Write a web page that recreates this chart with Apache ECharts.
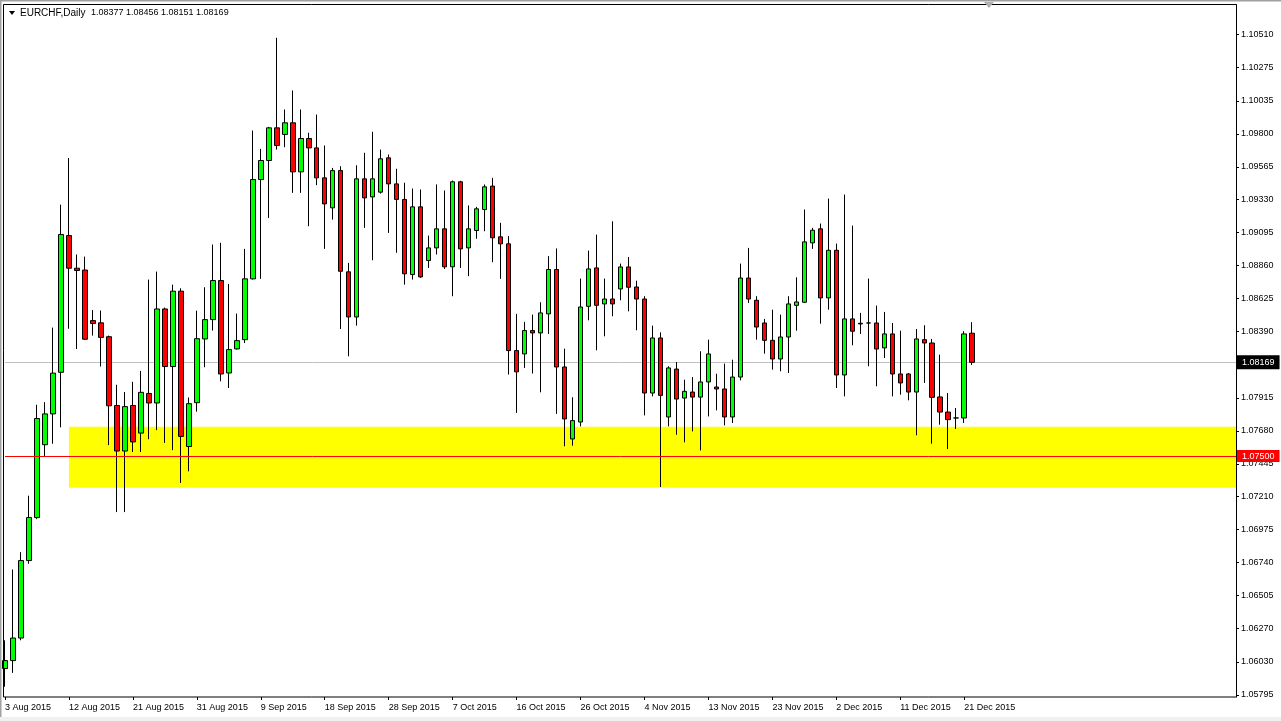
<!DOCTYPE html>
<html><head><meta charset="utf-8">
<script src="https://cdn.jsdelivr.net/npm/echarts@6/dist/echarts.min.js"></script>
<style>html,body{margin:0;padding:0;background:#fff}#c{width:1281px;height:721px}</style>
</head><body><div id="c"></div>
<script>
// Daily bars (broker with Sunday sessions), 3 Aug 2015 .. 22 Dec 2015
const dates = [
'3 Aug 2015','4 Aug 2015','5 Aug 2015','6 Aug 2015','7 Aug 2015','9 Aug 2015',
'10 Aug 2015','11 Aug 2015','12 Aug 2015','13 Aug 2015','14 Aug 2015','16 Aug 2015',
'17 Aug 2015','18 Aug 2015','19 Aug 2015','20 Aug 2015','21 Aug 2015','23 Aug 2015',
'24 Aug 2015','25 Aug 2015','26 Aug 2015','27 Aug 2015','28 Aug 2015','30 Aug 2015',
'31 Aug 2015','1 Sep 2015','2 Sep 2015','3 Sep 2015','4 Sep 2015','6 Sep 2015',
'7 Sep 2015','8 Sep 2015','9 Sep 2015','10 Sep 2015','11 Sep 2015','13 Sep 2015',
'14 Sep 2015','15 Sep 2015','16 Sep 2015','17 Sep 2015','18 Sep 2015','20 Sep 2015',
'21 Sep 2015','22 Sep 2015','23 Sep 2015','24 Sep 2015','25 Sep 2015','27 Sep 2015',
'28 Sep 2015','29 Sep 2015','30 Sep 2015','1 Oct 2015','2 Oct 2015','4 Oct 2015',
'5 Oct 2015','6 Oct 2015','7 Oct 2015','8 Oct 2015','9 Oct 2015','11 Oct 2015',
'12 Oct 2015','13 Oct 2015','14 Oct 2015','15 Oct 2015','16 Oct 2015','18 Oct 2015',
'19 Oct 2015','20 Oct 2015','21 Oct 2015','22 Oct 2015','23 Oct 2015','25 Oct 2015',
'26 Oct 2015','27 Oct 2015','28 Oct 2015','29 Oct 2015','30 Oct 2015','1 Nov 2015',
'2 Nov 2015','3 Nov 2015','4 Nov 2015','5 Nov 2015','6 Nov 2015','8 Nov 2015',
'9 Nov 2015','10 Nov 2015','11 Nov 2015','12 Nov 2015','13 Nov 2015','15 Nov 2015',
'16 Nov 2015','17 Nov 2015','18 Nov 2015','19 Nov 2015','20 Nov 2015','22 Nov 2015',
'23 Nov 2015','24 Nov 2015','25 Nov 2015','26 Nov 2015','27 Nov 2015','29 Nov 2015',
'30 Nov 2015','1 Dec 2015','2 Dec 2015','3 Dec 2015','4 Dec 2015','6 Dec 2015',
'7 Dec 2015','8 Dec 2015','9 Dec 2015','10 Dec 2015','11 Dec 2015','13 Dec 2015',
'14 Dec 2015','15 Dec 2015','16 Dec 2015','17 Dec 2015','18 Dec 2015','20 Dec 2015',
'21 Dec 2015','22 Dec 2015'
];
const opens = [
1.05983,1.06040,1.06201,1.06754,1.07061,1.07581,1.07801,1.08098,1.09074,1.08841,
1.08828,1.08467,1.08451,1.08352,1.07861,1.07536,1.07861,1.07664,1.07947,1.07879,
1.08550,1.08139,1.08677,1.07568,1.07881,1.08336,1.08474,1.08753,1.08093,1.08265,
1.08331,1.08765,1.09474,1.09610,1.09843,1.09796,1.09879,1.09529,1.09767,1.09700,
1.09486,1.09272,1.09538,1.08815,1.08493,1.09479,1.09350,1.09384,1.09629,1.09443,
1.09332,1.08796,1.09279,1.08896,1.08986,1.09122,1.08851,1.09458,1.08986,1.09110,
1.09260,1.09427,1.09065,1.09015,1.08253,1.08229,1.08396,1.08379,1.08515,1.08832,
1.08136,1.07622,1.07743,1.08569,1.08843,1.08586,1.08621,1.08693,1.08850,1.08707,
1.08621,1.07950,1.08343,1.07779,1.08121,1.07914,1.07957,1.07921,1.08029,1.07993,
1.07979,1.07779,1.08064,1.08771,1.08612,1.08450,1.08326,1.08193,1.08350,1.08576,
1.08598,1.09022,1.09122,1.08629,1.08969,1.08079,1.08479,1.08448,1.08450,1.08450,
1.08272,1.08372,1.08086,1.08086,1.07957,1.08331,1.08307,1.07922,1.07814,1.07772,
1.07772,1.08377
];
const highs = [
1.06185,1.06690,1.06814,1.07217,1.07866,1.07885,1.08417,1.09295,1.09628,1.08939,
1.08924,1.08542,1.08539,1.08360,1.08009,1.07957,1.08030,1.08108,1.08760,1.08817,
1.08560,1.08724,1.08698,1.07918,1.08538,1.08705,1.09010,1.09022,1.08729,1.08517,
1.08979,1.09824,1.09693,1.09850,1.10486,1.09974,1.10110,1.09974,1.09808,1.09938,
1.09717,1.09557,1.09569,1.08879,1.09576,1.09665,1.09815,1.09688,1.09653,1.09551,
1.09451,1.09410,1.09403,1.09074,1.09439,1.09396,1.09467,1.09465,1.09289,1.09279,
1.09439,1.09486,1.09165,1.09070,1.08515,1.08458,1.08510,1.08598,1.08927,1.08982,
1.08267,1.07920,1.08767,1.08967,1.09081,1.08767,1.09176,1.08874,1.08921,1.08752,
1.08641,1.08431,1.08383,1.08141,1.08171,1.08045,1.08064,1.08248,1.08331,1.08088,
1.08160,1.08188,1.08874,1.08986,1.08641,1.08479,1.08545,1.08510,1.08641,1.08776,
1.09260,1.09129,1.09160,1.09338,1.09017,1.09367,1.09145,1.08522,1.08767,1.08574,
1.08529,1.08450,1.08395,1.08093,1.08407,1.08434,1.08336,1.08224,1.07950,1.07843,
1.08391,1.08456
];
const lows = [
1.05853,1.05952,1.06185,1.06731,1.07050,1.07495,1.07588,1.07705,1.08409,1.08264,
1.08329,1.08360,1.08139,1.07578,1.07100,1.07100,1.07529,1.07529,1.07620,1.07685,
1.07594,1.07542,1.07308,1.07391,1.07817,1.08134,1.08396,1.08034,1.07986,1.08260,
1.08307,1.08760,1.08765,1.09200,1.09688,1.09705,1.09379,1.09379,1.09141,1.09434,
1.08979,1.09188,1.08407,1.08212,1.08431,1.09129,1.08898,1.09374,1.09093,1.08951,
1.08724,1.08760,1.08772,1.08843,1.08939,1.08836,1.08641,1.08843,1.08784,1.09051,
1.09105,1.08884,1.08765,1.08082,1.07808,1.08129,1.08089,1.07955,1.08372,1.07801,
1.07570,1.07574,1.07712,1.08469,1.08255,1.08355,1.08498,1.08612,1.08533,1.08398,
1.07790,1.07926,1.07279,1.07712,1.07652,1.07598,1.07676,1.07540,1.07783,1.07826,
1.07719,1.07736,1.08040,1.08593,1.08331,1.08231,1.08117,1.08105,1.08093,1.08395,
1.08593,1.08979,1.08445,1.08545,1.07986,1.07926,1.08291,1.08372,1.08141,1.07998,
1.08200,1.07926,1.07938,1.07898,1.07648,1.08022,1.07588,1.07724,1.07550,1.07693,
1.07736,1.08151
];
const closes = [
1.06040,1.06201,1.06754,1.07061,1.07768,1.07801,1.08092,1.09082,1.08841,1.08825,
1.08334,1.08446,1.08347,1.07859,1.07536,1.07853,1.07601,1.07955,1.07879,1.08550,
1.08139,1.08677,1.07640,1.07874,1.08338,1.08474,1.08753,1.08086,1.08260,1.08324,
1.08765,1.09474,1.09610,1.09843,1.09717,1.09879,1.09529,1.09767,1.09700,1.09486,
1.09300,1.09538,1.08819,1.08493,1.09479,1.09343,1.09479,1.09622,1.09443,1.09332,
1.08801,1.09279,1.08779,1.08986,1.09122,1.08851,1.09458,1.08979,1.09122,1.09265,
1.09422,1.09058,1.09015,1.08253,1.08101,1.08396,1.08379,1.08522,1.08832,1.08136,
1.07765,1.07753,1.08564,1.08836,1.08576,1.08621,1.08586,1.08850,1.08705,1.08621,
1.07950,1.08343,1.07933,1.08129,1.07907,1.07962,1.07921,1.08029,1.08229,1.07979,
1.07779,1.08064,1.08771,1.08621,1.08421,1.08326,1.08193,1.08350,1.08586,1.08600,
1.09029,1.09112,1.08629,1.08969,1.08079,1.08479,1.08391,1.08443,1.08450,1.08264,
1.08372,1.08086,1.08022,1.07957,1.08336,1.08307,1.07919,1.07814,1.07760,1.07772,
1.08372,1.08169
];
const yTickValues = [1.10510,1.10275,1.10035,1.09800,1.09565,1.09330,1.09095,1.08860,1.08625,1.08390,
  1.07915,1.07680,1.07445,1.07210,1.06975,1.06740,1.06505,1.06270,1.06030,1.05795];
const symbolName = 'EURCHF,Daily';
const lastBar = '1.08377 1.08456 1.08151 1.08169';
const bidPrice = 1.08169;
const levelPrice = 1.07500;
const zoneLow = 1.07274, zoneHigh = 1.07710;
const zoneStart = '12 Aug 2015';
const yMin = 1.0578, yMax = 1.1072;

// empty slots to the right (chart shift)
const cats = dates.slice();
let k = 0;
while (cats.length < 155) cats.push('#' + (k++));
const candles = dates.map((d, i) => [opens[i], closes[i], lows[i], highs[i]]);

const FONT = 'Liberation Sans, Arial, sans-serif';
const chart = echarts.init(document.getElementById('c'), null, {renderer: 'canvas'});
chart.setOption({
  animation: false,
  backgroundColor: '#ffffff',
  grid: {left: 5, right: 45, top: 5, bottom: 24, show: false},
  xAxis: {
    type: 'category', data: cats, boundaryGap: false,
    axisLine: {show: false},
    axisTick: {show: true, length: 3, lineStyle: {color: '#000'},
      interval: (i, v) => i % 8 === 0 && v.charAt(0) !== '#'},
    axisLabel: {fontSize: 9, fontFamily: FONT, color: '#000', align: 'left', margin: 6,
      interval: (i, v) => i % 8 === 0 && v.charAt(0) !== '#',
      formatter: v => v.charAt(0) === '#' ? '' : v},
    splitLine: {show: false}
  },
  yAxis: {
    type: 'value', position: 'right', min: yMin, max: yMax, scale: true,
    splitLine: {show: false},
    axisLine: {show: true, lineStyle: {color: '#000'}},
    axisTick: {show: true, length: 3, lineStyle: {color: '#000'}, customValues: yTickValues},
    axisLabel: {fontSize: 9, fontFamily: FONT, color: '#000', margin: 5, padding: [3, 0, 0, 0],
      customValues: yTickValues, formatter: v => v.toFixed(5)}
  },
  series: [
    {
      type: 'line', data: [], z: 1, silent: true,
      markLine: {
        silent: true, symbol: 'none', z: 1, precision: 5,
        lineStyle: {color: '#c0c0c0', width: 1, type: 'solid'},
        label: {show: true, position: 'end', distance: 1, formatter: bidPrice.toFixed(5),
          backgroundColor: '#000', color: '#fff', fontSize: 9, fontFamily: FONT,
          padding: [2, 5, 2, 5], lineHeight: 10},
        data: [{yAxis: bidPrice}]
      }
    },
    {
      type: 'candlestick', data: candles, barWidth: 5, clip: false, z: 2,
      itemStyle: {color: '#00ff00', color0: '#ff0000', borderColor: '#000', borderColor0: '#000', borderWidth: 1},
      markArea: {
        silent: true, z: 0, precision: 5,
        itemStyle: {color: '#ffff00', opacity: 1},
        data: [[{xAxis: zoneStart, yAxis: zoneLow}, {xAxis: cats[cats.length - 1], yAxis: zoneHigh}]]
      },
      markLine: {
        silent: true, symbol: 'none', z: 3, precision: 5,
        lineStyle: {color: '#ff0000', width: 1, type: 'solid'},
        label: {show: true, position: 'end', distance: 1, formatter: levelPrice.toFixed(5),
          backgroundColor: '#ff0000', color: '#fff', fontSize: 9, fontFamily: FONT,
          padding: [1, 5, 1, 5], lineHeight: 10},
        data: [{yAxis: levelPrice}]
      }
    }
  ],
  graphic: [
    {type: 'rect', z: 100, silent: true, shape: {x: 3.5, y: 4.5, width: 1233, height: 692.5},
      style: {fill: null, stroke: '#000', lineWidth: 1}},
    {type: 'rect', z: 100, silent: true, shape: {x: 0, y: 0, width: 1281, height: 1.5}, style: {fill: '#a0a0a0'}},
    {type: 'rect', z: 100, silent: true, shape: {x: 0, y: 0, width: 1.5, height: 721}, style: {fill: '#a0a0a0'}},
    {type: 'rect', z: 100, silent: true, shape: {x: 0, y: 717, width: 1281, height: 4}, style: {fill: '#f0f0f0'}},
    {type: 'polygon', z: 100, silent: true, shape: {points: [[9, 11], [15, 11], [12, 15]]}, style: {fill: '#000'}},
    {type: 'polygon', z: 100, silent: true, shape: {points: [[984, 2], [994, 2], [989, 8]]}, style: {fill: '#b0b0b0'}},
    {type: 'text', z: 100, silent: true, x: 20, y: 13,
      style: {text: symbolName, fontSize: 10, fontFamily: FONT, fill: '#000', textVerticalAlign: 'middle', verticalAlign: 'middle'}},
    {type: 'text', z: 100, silent: true, x: 91, y: 13,
      style: {text: lastBar, fontSize: 9, fontFamily: FONT, fill: '#000', textVerticalAlign: 'middle', verticalAlign: 'middle'}}
  ]
});
</script>
</body></html>
